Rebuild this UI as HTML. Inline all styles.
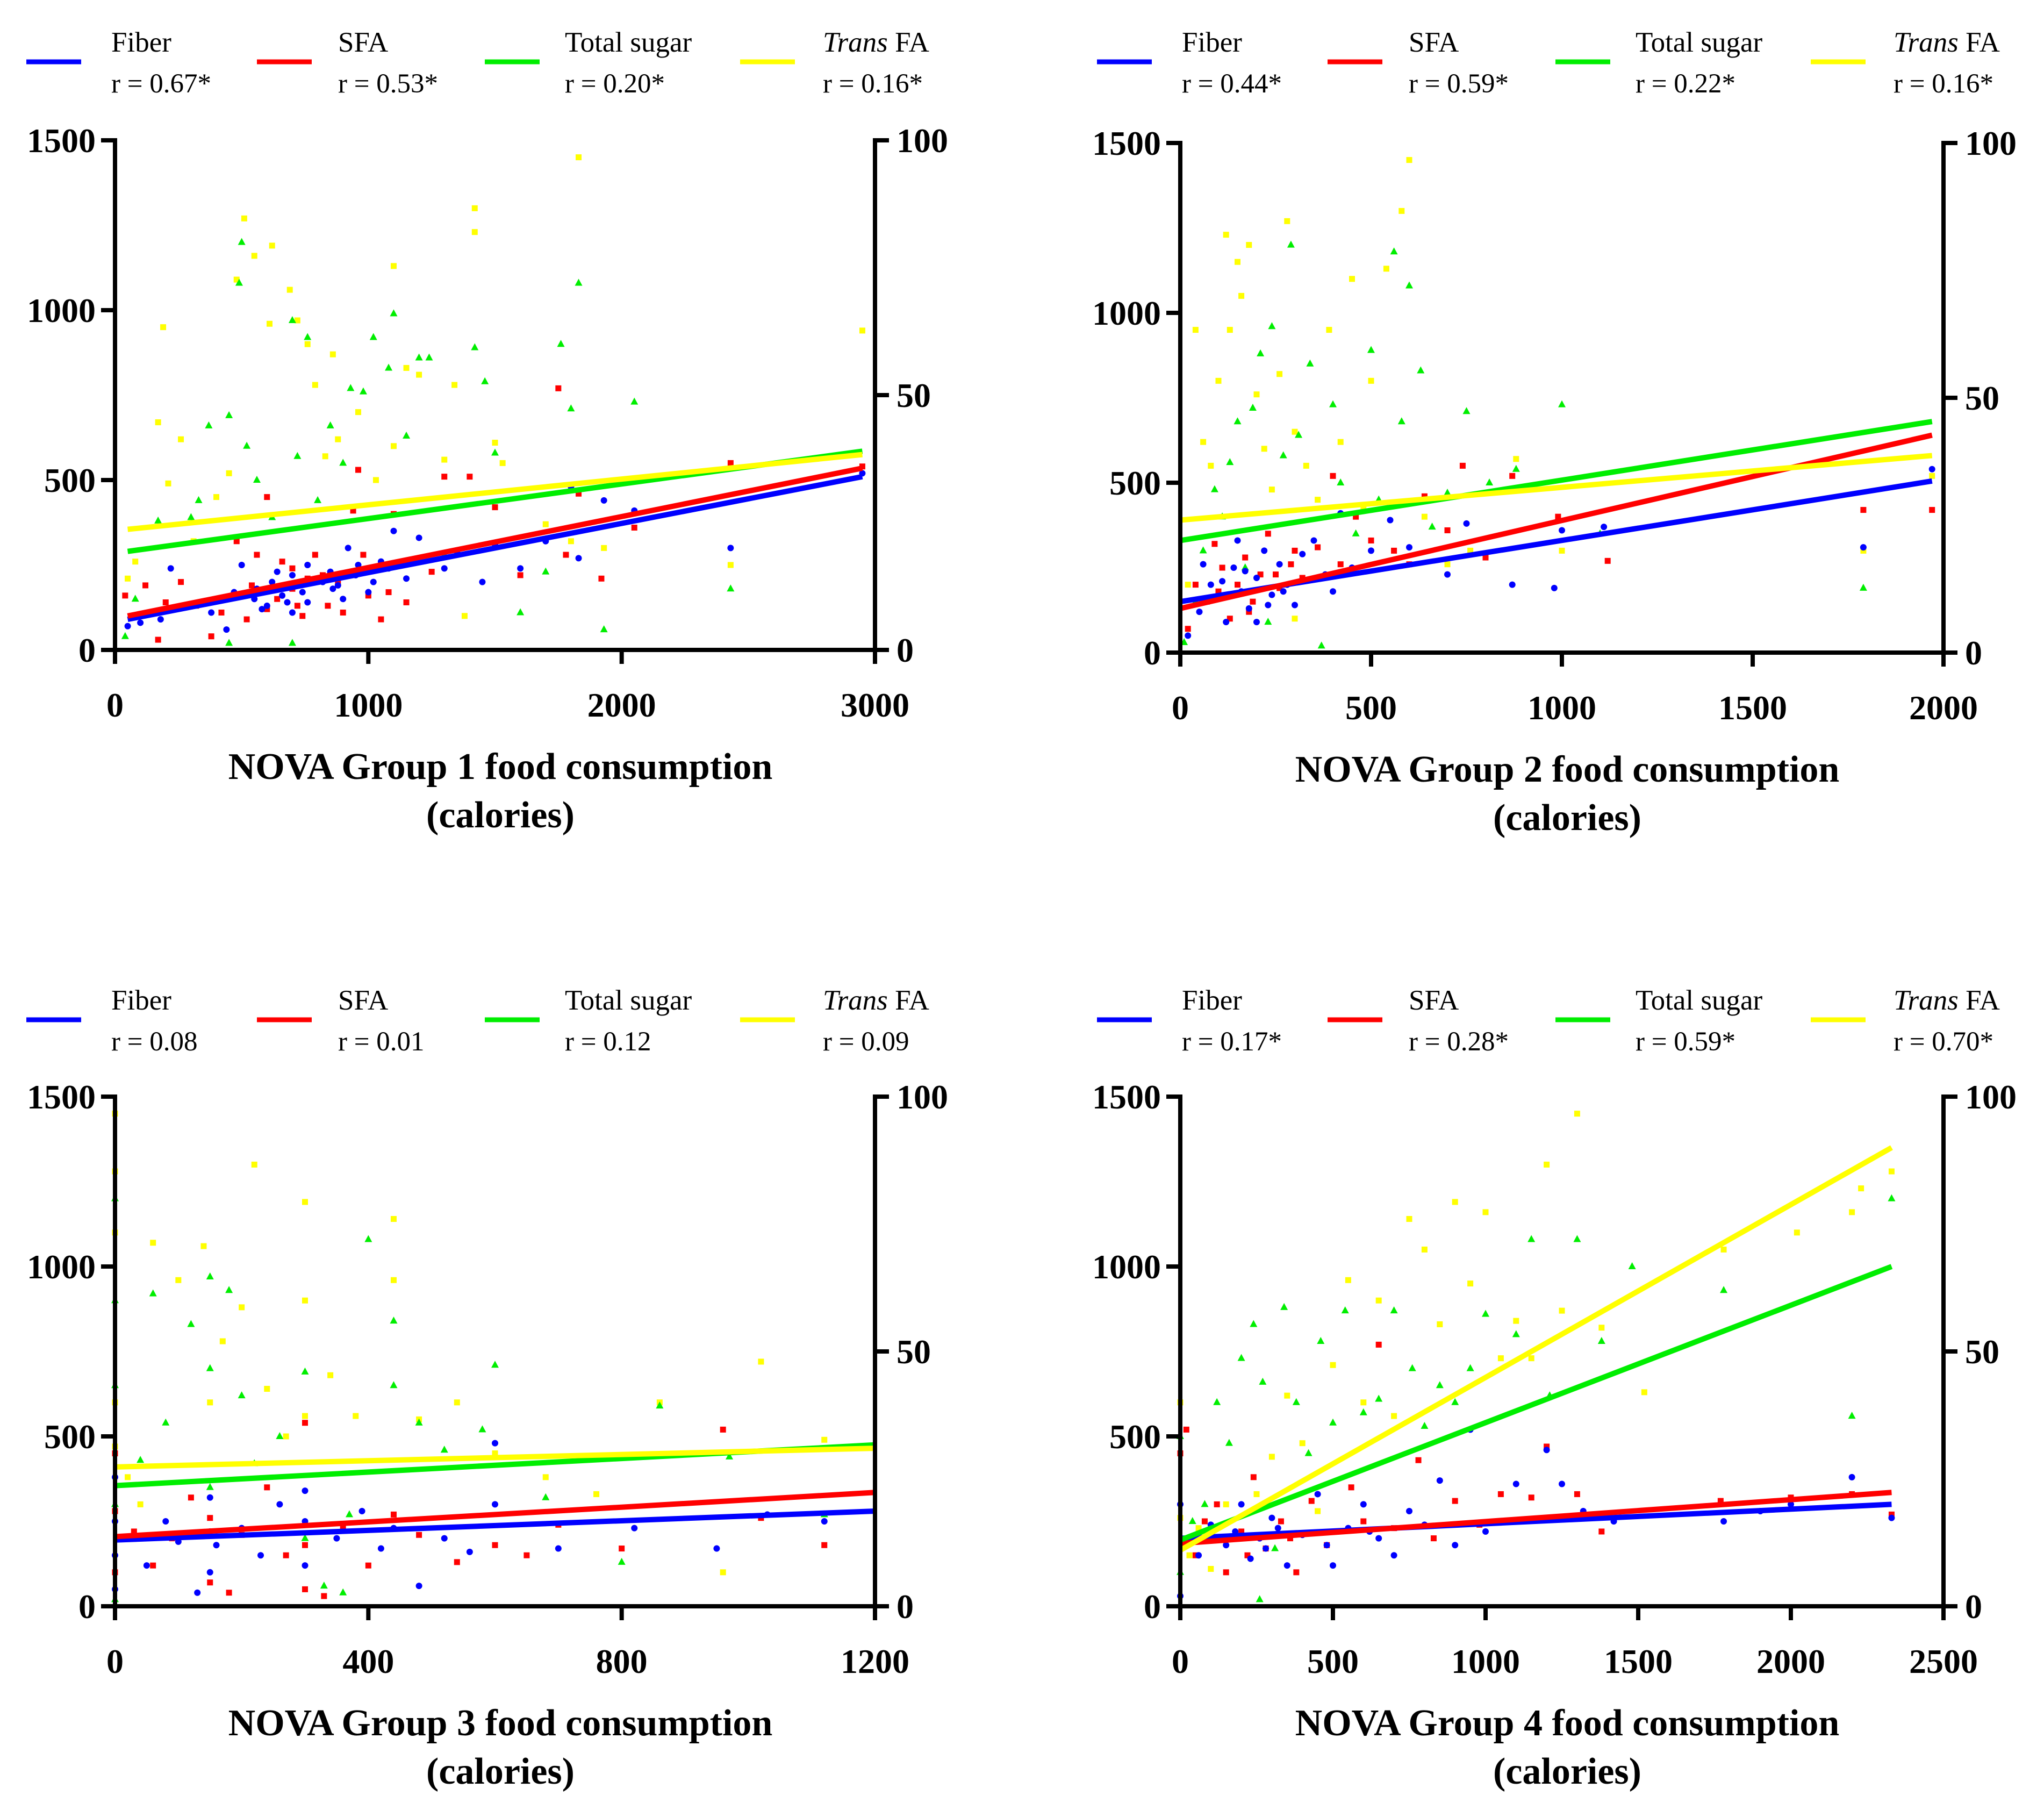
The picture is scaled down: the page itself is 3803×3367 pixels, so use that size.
<!DOCTYPE html>
<html><head><meta charset="utf-8"><style>
body{margin:0;background:#fff}
svg{display:block}
text{font-family:"Liberation Serif",serif}
</style></head><body>
<svg id="chart" width="3803" height="3367" viewBox="0 0 3803 3367" xmlns="http://www.w3.org/2000/svg"></svg>
<script>
// ---- data ----
const xMaxes=[3000,2000,1200,2500];
const xTicks1=[0,1000,2000,3000];
const xTicks2=[0,500,1000,1500,2000];
const xTicks3=[0,400,800,1200];
const xTicks4=[0,500,1000,1500,2000,2500];
const yTicksLeft=[0,500,1000,1500];
const yTicksRight=[0,50,100];
const seriesNames=["Fiber","SFA","Total sugar","Trans FA"];
const rLabels1=["r = 0.67*","r = 0.53*","r = 0.20*","r = 0.16*"];
const rLabels2=["r = 0.44*","r = 0.59*","r = 0.22*","r = 0.16*"];
const rLabels3=["r = 0.08","r = 0.01","r = 0.12","r = 0.09"];
const rLabels4=["r = 0.17*","r = 0.28*","r = 0.59*","r = 0.70*"];
const titles=["NOVA Group 1 food consumption","NOVA Group 2 food consumption","NOVA Group 3 food consumption","NOVA Group 4 food consumption"];
// regression line endpoints [x1,y1,x2,y2] per series
const fit1=[[50,90,2950,510],[50,100,2950,535],[50,290,2950,585],[50,355,2950,575]];
const fit2=[[0,150,1970,505],[0,130,1970,640],[0,330,1970,680],[0,390,1970,580]];
const fit3=[[0,195,1200,280],[0,205,1200,335],[0,355,1200,475],[0,410,1200,465]];
const fit4=[[0,200,2330,300],[0,185,2330,335],[0,195,2330,1000],[0,165,2330,1350]];
const p1Fiber=[[50,70],[100,80],[180,90],[220,240],[380,110],[440,60],[470,170],[500,250],[550,150],[600,130],[620,200],[660,160],[700,110],[720,190],[760,140],[800,210],[850,230],[880,190],[920,300],[950,220],[1000,170],[1050,260],[1100,350],[1150,210],[1200,330],[1300,240],[1350,290],[1450,200],[1500,310],[1600,240],[1700,320],[1800,480],[1830,270],[1930,440],[2050,410],[2430,300],[2950,520],[760,250],[640,230],[900,150],[560,180],[680,140],[740,170],[820,200],[860,180],[960,250],[1020,200],[1080,240],[580,120],[700,220]];
const p1SFA=[[40,160],[120,190],[170,30],[200,140],[260,200],[320,130],[380,40],[420,110],[480,320],[520,90],[560,280],[600,450],[640,150],[700,240],[740,100],[790,280],[840,130],[880,200],[940,410],[960,530],[1000,160],[1050,90],[1100,400],[1150,140],[1250,230],[1300,510],[1400,510],[1500,420],[1600,220],[1750,770],[1780,280],[1830,460],[1920,210],[2050,360],[2430,550],[2950,540],[700,180],[820,220],[600,120],[660,260],[720,130],[760,210],[900,110],[980,280],[1080,170],[540,190]];
const p1Sugar=[[40,40],[80,150],[170,380],[300,390],[330,440],[370,660],[450,690],[500,1200],[490,1080],[520,600],[560,500],[620,390],[700,970],[760,920],[720,570],[800,440],[850,660],[900,550],[930,770],[980,760],[1020,920],[1100,990],[1080,830],[1150,630],[1200,860],[1240,860],[1300,280],[1420,890],[1460,790],[1500,580],[1600,110],[1700,230],[1760,900],[1800,710],[1830,1080],[1930,60],[2050,730],[2430,180],[700,20],[450,20]];
const p1Trans=[[50,210],[80,260],[170,670],[190,950],[210,490],[260,620],[310,320],[400,450],[450,520],[480,1090],[510,1270],[550,1160],[620,1190],[610,960],[690,1060],[720,970],[760,900],[790,780],[830,570],[860,870],[880,620],[960,700],[1030,500],[1100,600],[1100,1130],[1150,830],[1200,810],[1300,560],[1340,780],[1420,1300],[1420,1230],[1500,610],[1530,550],[1700,370],[1800,320],[1830,1450],[1930,300],[2430,250],[2950,940],[1380,100]];
const p2Fiber=[[20,50],[50,120],[80,200],[100,160],[120,90],[140,250],[160,180],[180,130],[200,220],[220,300],[240,170],[260,260],[280,200],[300,140],[320,290],[350,330],[380,230],[400,180],[420,410],[450,250],[500,300],[550,390],[600,310],[700,230],[750,380],[870,200],[980,190],[1000,360],[1110,370],[1790,310],[1970,540],[150,330],[60,260],[200,90],[110,210],[170,240],[230,140],[270,180],[130,170]];
const p2SFA=[[20,70],[40,200],[70,150],[90,320],[110,250],[130,100],[150,200],[170,280],[190,150],[210,230],[230,350],[260,190],[290,260],[320,220],[360,310],[400,520],[420,260],[460,400],[500,330],[560,300],[600,260],[640,460],[700,360],[740,550],[800,280],[870,520],[990,400],[1120,270],[1790,420],[1970,420],[180,120],[300,300],[100,180],[250,230]];
const p2Sugar=[[10,30],[40,150],[60,300],[90,480],[110,400],[130,560],[150,680],[170,250],[190,720],[210,880],[240,960],[270,580],[290,1200],[310,640],[340,850],[370,20],[400,730],[420,500],[460,350],[500,890],[520,450],[560,1180],[580,680],[600,1080],[630,830],[660,370],[700,470],[750,710],[810,500],[880,540],[1000,730],[1100,350],[1790,190],[230,90]];
const p2Trans=[[20,200],[40,950],[60,620],[80,550],[100,800],[120,1230],[130,950],[150,1150],[160,1050],[180,1200],[200,760],[220,600],[240,480],[260,820],[280,1270],[300,650],[330,550],[360,450],[390,950],[420,620],[450,1100],[480,430],[500,800],[540,1130],[580,1300],[600,1450],[640,400],[700,260],[760,300],[880,570],[1000,300],[1790,300],[1970,520],[300,100]];
const p3Fiber=[[0,50],[0,150],[0,250],[0,380],[20,200],[50,120],[80,250],[100,190],[130,40],[150,100],[150,220],[150,320],[160,180],[200,230],[230,150],[260,300],[300,120],[300,250],[300,340],[350,200],[390,280],[420,170],[440,230],[480,60],[520,200],[560,160],[600,300],[600,480],[700,170],[820,230],[950,170],[1030,270],[1120,250]];
const p3SFA=[[0,100],[0,280],[0,450],[30,220],[60,120],[90,200],[120,320],[150,70],[150,260],[180,40],[200,210],[240,350],[270,150],[300,50],[300,180],[300,540],[330,30],[360,230],[400,120],[440,270],[480,210],[540,130],[600,180],[650,150],[700,240],[800,170],[960,520],[1020,260],[1120,180]];
const p3Sugar=[[0,20],[0,300],[0,650],[0,900],[0,1200],[40,430],[60,920],[80,540],[120,830],[150,970],[150,700],[150,350],[180,930],[200,620],[220,420],[260,500],[300,690],[300,200],[330,60],[370,270],[400,1080],[440,840],[440,650],[480,540],[520,460],[580,520],[600,710],[680,320],[800,130],[860,590],[970,440],[1120,270],[360,40]];
const p3Trans=[[0,1450],[0,1280],[0,1100],[0,600],[0,470],[20,380],[40,300],[60,1070],[100,960],[140,1060],[150,600],[170,780],[200,880],[220,1300],[240,640],[270,500],[300,1190],[300,900],[300,560],[340,680],[380,560],[440,1140],[440,960],[480,550],[540,600],[600,450],[680,380],[760,330],[860,600],[960,100],[1020,720],[1120,490]];
const p4Fiber=[[0,30],[0,300],[30,200],[60,150],[100,240],[150,180],[200,300],[230,140],[260,200],[300,260],[350,120],[400,210],[450,330],[500,120],[550,230],[600,300],[650,200],[700,150],[750,280],[800,240],[850,370],[900,180],[950,520],[1000,220],[1100,360],[1200,460],[1250,360],[1320,280],[1420,250],[1780,250],[2000,300],[2200,380],[2330,260],[1900,280],[180,220],[280,170],[320,230],[480,180],[620,220]];
const p4SFA=[[0,450],[20,520],[50,150],[80,250],[120,300],[150,100],[200,220],[240,380],[280,170],[330,250],[380,100],[430,310],[480,180],[560,350],[600,250],[650,770],[700,230],[780,430],[830,200],[900,310],[980,240],[1050,330],[1150,320],[1200,470],[1300,330],[1380,220],[1770,310],[2000,320],[2200,330],[2330,270],[220,150],[360,200]];
const p4Sugar=[[0,100],[0,500],[40,250],[80,300],[120,600],[160,480],[200,730],[240,830],[270,660],[310,170],[340,880],[380,600],[420,450],[460,780],[500,540],[540,870],[600,570],[650,610],[700,870],[760,700],[800,530],[850,650],[900,600],[950,700],[1000,860],[1100,800],[1150,1080],[1210,620],[1300,1080],[1380,780],[1480,1000],[1780,930],[2200,560],[2330,1200],[260,20]];
const p4Trans=[[0,600],[0,260],[30,150],[60,230],[100,110],[150,300],[200,200],[250,330],[300,440],[350,620],[400,480],[450,280],[500,710],[550,960],[600,600],[650,900],[700,560],[750,1140],[800,1050],[850,830],[900,1190],[950,950],[1000,1160],[1050,730],[1100,840],[1150,730],[1200,1300],[1250,870],[1300,1450],[1380,820],[1520,630],[1780,1050],[2020,1100],[2200,1160],[2230,1230],[2330,1280]];

const colors=["#0000ff","#ff0000","#00ee00","#ffff00"];
const panels=[
 {L:214,R:1628,T:261,B:1209,ox:0,oy:0,xt:xTicks1,r:rLabels1,fit:fit1,pts:[p1Fiber,p1SFA,p1Sugar,p1Trans]},
 {L:2196,R:3616,T:266,B:1214,ox:1992,oy:0,xt:xTicks2,r:rLabels2,fit:fit2,pts:[p2Fiber,p2SFA,p2Sugar,p2Trans]},
 {L:214,R:1628,T:2040,B:2988,ox:0,oy:1782,xt:xTicks3,r:rLabels3,fit:fit3,pts:[p3Fiber,p3SFA,p3Sugar,p3Trans]},
 {L:2196,R:3616,T:2040,B:2988,ox:1992,oy:1782,xt:xTicks4,r:rLabels4,fit:fit4,pts:[p4Fiber,p4SFA,p4Sugar,p4Trans]}
];
const svg=document.getElementById('chart');
const NS="http://www.w3.org/2000/svg";
function mk(tag,attrs,parent){const e=document.createElementNS(NS,tag);for(const k in attrs)e.setAttribute(k,attrs[k]);(parent||svg).appendChild(e);return e;}
function txt(s,x,y,size,weight,anchor,parent){const t=mk('text',{x:x,y:y,'font-size':size,'font-weight':weight,'text-anchor':anchor,fill:'#000'},parent);t.textContent=s;return t;}

panels.forEach((p,pi)=>{
 const g=mk('g',{});
 
 
 const xMax=xMaxes[pi];
 const sx=v=>p.L+(v/xMax)*(p.R-p.L);
 const sy=v=>p.B-(v/1500)*(p.B-p.T);
 const lx=[49,478,902,1377], tx=[207,629,1051,1531];
 seriesNames.forEach((n,i)=>{
  const lg=mk('g',{},g);
  
  
  mk('line',{x1:lx[i]+p.ox,x2:lx[i]+102+p.ox,y1:115+p.oy,y2:115+p.oy,stroke:colors[i],'stroke-width':9},lg);
  if(i===3){
   const t=mk('text',{x:tx[i]+p.ox,y:96+p.oy,'font-size':53,fill:'#000'},lg);
   const a=document.createElementNS(NS,'tspan');a.setAttribute('font-style','italic');a.textContent='Trans';t.appendChild(a);
   const b=document.createElementNS(NS,'tspan');b.textContent=' FA';t.appendChild(b);
  } else txt(n,tx[i]+p.ox,96+p.oy,53,'normal','start',lg);
  txt(p.r[i],tx[i]+p.ox,172+p.oy,51,'normal','start',lg);
 });
 const pg=mk('g',{},g);
 
 
 [3,2,1,0].forEach(si=>{
  p.pts[si].forEach(d=>{
   const x=sx(d[0]),y=sy(d[1]);let e;
   if(si===0){e=mk('circle',{cx:x,cy:y,r:6,fill:colors[0]},pg);}
   else if(si===2){e=mk('polygon',{points:`${x},${y-8} ${x-7},${y+5} ${x+7},${y+5}`,fill:colors[2]},pg);}
   else {e=mk('rect',{x:x-5.5,y:y-5.5,width:11,height:11,fill:colors[si]},pg);}
   
   
  });
 });
 p.fit.forEach((f,i)=>{
  const l=mk('line',{x1:sx(f[0]),y1:sy(f[1]),x2:sx(f[2]),y2:sy(f[3]),stroke:colors[i],'stroke-width':10},g);
  
  
 });
 const ax=mk('g',{stroke:'#000','stroke-width':8,fill:'none'},g);
 
 
 mk('line',{x1:p.L,y1:p.T-4,x2:p.L,y2:p.B+4},ax);
 mk('line',{x1:p.R,y1:p.T-4,x2:p.R,y2:p.B+4},ax);
 mk('line',{x1:p.L-4,y1:p.B,x2:p.R+4,y2:p.B},ax);
 yTicksLeft.forEach(v=>{
  mk('line',{x1:p.L-26,x2:p.L,y1:sy(v),y2:sy(v)},ax);
  const t=txt(String(v),p.L-36,sy(v)+22,64,'bold','end',g);
  
 });
 yTicksRight.forEach(v=>{
  const y=p.B-(v/100)*(p.B-p.T);
  mk('line',{x1:p.R,x2:p.R+26,y1:y,y2:y},ax);
  const t=txt(String(v),p.R+40,y+22,64,'bold','start',g);
  
 });
 p.xt.forEach(v=>{
  mk('line',{x1:sx(v),x2:sx(v),y1:p.B,y2:p.B+26},ax);
  const t=txt(String(v),sx(v),p.B+124,64,'bold','middle',g);
  
 });
 const cx=(p.L+p.R)/2+10;
 const t1=txt(titles[pi],cx,p.B+240,70,'bold','middle',g);
 
 const t2=txt('(calories)',cx,p.B+330,70,'bold','middle',g);
 
});
</script>
</body></html>
